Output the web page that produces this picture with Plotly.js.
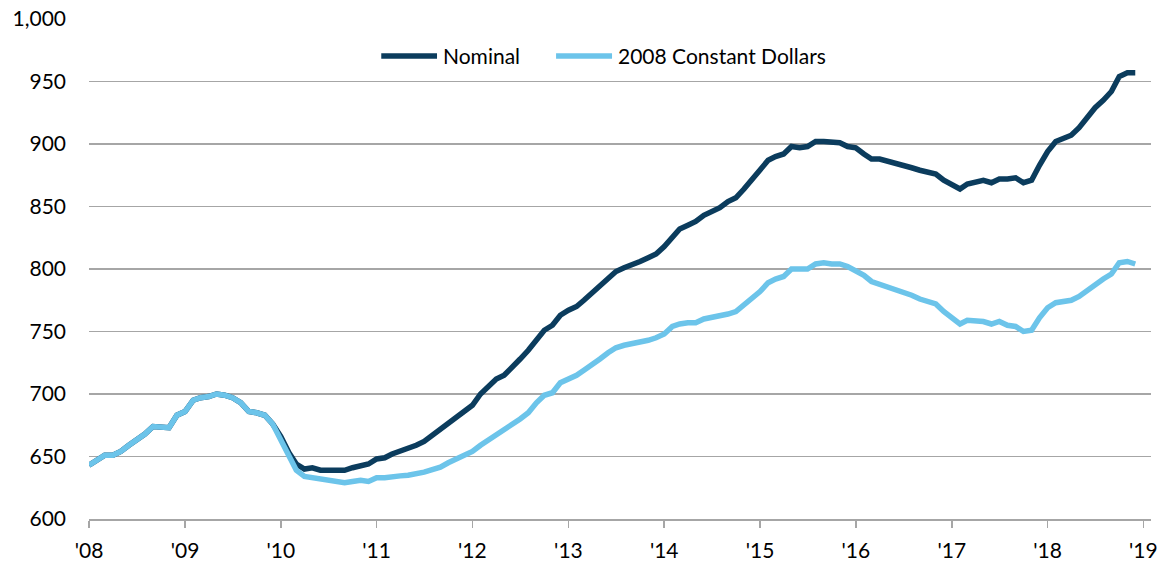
<!DOCTYPE html>
<html>
<head>
<meta charset="utf-8">
<script src="https://cdn.plot.ly/plotly-3.0.1.min.js"></script>
<style>
html,body{margin:0;padding:0;background:#fff;}
#chart{width:1168px;height:562px;}
</style>
</head>
<body>
<div id="chart"></div>
<script>
// Monthly observations, Jan 2008 – Dec 2018
const startYear = 2008;
const seriesNames = ["Nominal", "2008 Constant Dollars"];
const seriesColors = ["#0b3c5d", "#6cc4ea"];
const tickLabelsFormat = "'%y";

const nominal = [
  643, 647, 651, 651, 654, 659, 663, 668, 674, 673, 673, 683,   // 2008
  686, 695, 697, 698, 700, 699, 697, 693, 686, 685, 683, 676,   // 2009
  666, 653, 644, 640, 641, 639, 639, 639, 639, 641, 643, 644,   // 2010
  648, 649, 652, 654, 657, 659, 662, 667, 671, 676, 681, 686,   // 2011
  691, 700, 706, 712, 715, 721, 728, 735, 744, 751, 755, 763,   // 2012
  767, 770, 775, 781, 787, 793, 798, 801, 803, 806, 809, 812,   // 2013
  818, 826, 832, 835, 838, 843, 846, 849, 854, 857, 864, 871,   // 2014
  879, 887, 890, 892, 898, 897, 898, 902, 902, 902, 901, 898,   // 2015
  897, 892, 888, 888, 886, 885, 883, 881, 879, 878, 876, 871,   // 2016
  868, 864, 868, 870, 871, 869, 872, 872, 873, 869, 871, 883,   // 2017
  894, 902, 904, 907, 913, 921, 929, 935, 942, 954, 957, 957    // 2018
];

const constant2008 = [
  643, 647, 651, 651, 654, 659, 663, 668, 674, 673, 673, 683,   // 2008
  686, 695, 697, 698, 700, 699, 697, 693, 686, 685, 683, 676,   // 2009
  664, 651, 639, 634, 633, 631, 630, 629, 629, 630, 631, 630,   // 2010
  633, 633, 634, 634.5, 635, 636, 637.5, 639.5, 641.5, 645, 648, 652, // 2011
  654, 659, 663, 667, 671, 675, 680, 685, 693, 699, 701, 709,   // 2012
  712, 715, 719, 723, 728, 733, 737, 739, 740, 741, 743, 745,   // 2013
  748, 754, 756, 757, 757, 760, 761, 762, 764, 766, 771, 776,   // 2014
  782, 789, 792, 794, 800, 800, 800, 804, 805, 804, 804, 802,   // 2015
  799, 795, 790, 788, 786, 784, 782, 779, 776, 774, 772, 766,   // 2016
  761, 756, 759, 759, 758, 756, 758, 755, 754, 750, 751, 761,   // 2017
  769, 773, 774, 775, 778, 783, 788, 792, 796, 805, 806, 804    // 2018
];

// month categories (first of each month)
const months = nominal.map((_, i) => {
  const y = startYear + Math.floor(i / 12);
  const m = (i % 12) + 1;
  return y + "-" + (m < 10 ? "0" + m : m) + "-01";
});

const FONT = "Lato, 'Open Sans', sans-serif";
const GRID = "#a6a6a6";

const traces = [
  {
    x: months, y: nominal, name: seriesNames[0], type: "scatter", mode: "lines",
    line: {color: seriesColors[0], width: 5.5}
  },
  {
    x: months, y: constant2008, name: seriesNames[1], type: "scatter", mode: "lines",
    line: {color: seriesColors[1], width: 5.5}
  }
];

// legend drawn as paper-positioned keys
const legendY = 0.926;
const legendKeys = [
  {x0: 0.2752, x1: 0.3277, tx: 0.3318},
  {x0: 0.4398, x1: 0.4925, tx: 0.4963}
];
const shapes = legendKeys.map((k, i) => ({
  type: "line", xref: "paper", yref: "paper",
  x0: k.x0, x1: k.x1, y0: legendY, y1: legendY,
  line: {color: seriesColors[i], width: 5.5}
}));
const annotations = legendKeys.map((k, i) => ({
  xref: "paper", yref: "paper", x: k.tx, y: legendY,
  xanchor: "left", yanchor: "middle", showarrow: false,
  text: seriesNames[i], font: {family: FONT, size: 21, color: "#000"}
}));

const layout = {
  width: 1168, height: 562,
  margin: {l: 89, r: 17, t: 19, b: 43},
  paper_bgcolor: "#fff", plot_bgcolor: "#fff",
  font: {family: FONT, size: 21, color: "#000"},
  showlegend: false,
  shapes: shapes,
  annotations: annotations,
  xaxis: {
    type: "date",
    range: ["2008-01-01", "2019-01-30"],
    tick0: "2008-01-01", dtick: "M12", tickformat: tickLabelsFormat,
    showgrid: false, zeroline: false,
    showline: true, linecolor: GRID, linewidth: 1.5,
    ticks: "outside", ticklen: 7, tickcolor: GRID, tickwidth: 1.5,
    tickfont: {family: FONT, size: 21, color: "#000"},
    ticklabelstandoff: 5
  },
  yaxis: {
    range: [600, 1000], dtick: 50, tick0: 600, tickformat: ",d",
    showgrid: true, gridcolor: GRID, gridwidth: 1.5,
    zeroline: false, showline: false, ticks: "",
    tickfont: {family: FONT, size: 21, color: "#000"},
    ticklabelstandoff: 22
  }
};

Plotly.newPlot("chart", traces, layout, {displayModeBar: false, staticPlot: true});
</script>
</body>
</html>
